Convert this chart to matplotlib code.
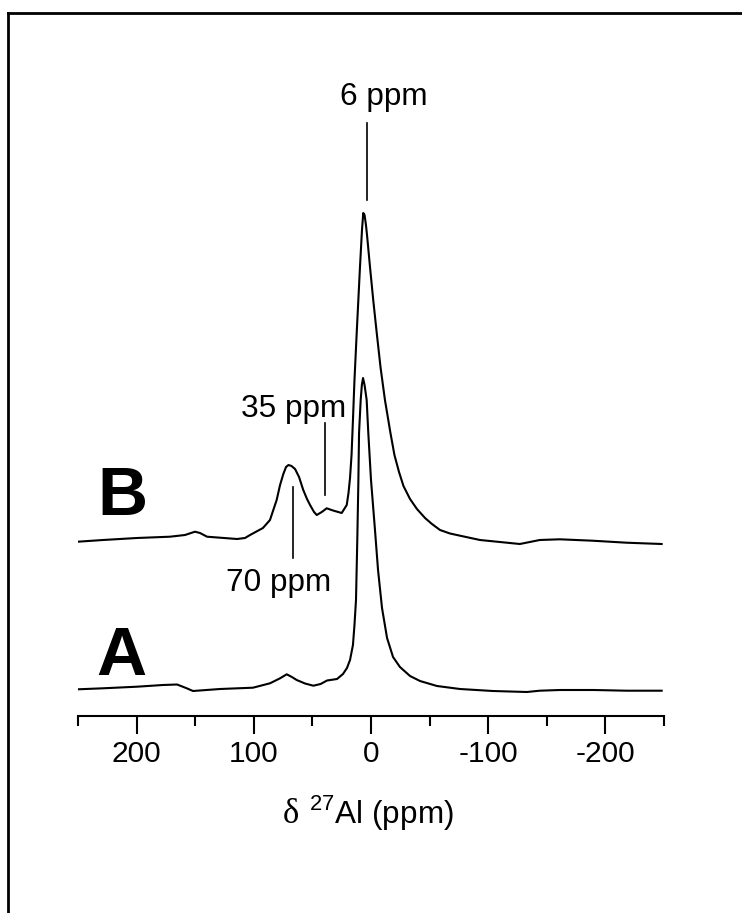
import matplotlib
matplotlib.use("Agg")
import matplotlib.pyplot as plt
from matplotlib.lines import Line2D
import numpy as np

# ---- data: chemical shift (ppm) and intensity (arbitrary units) ----
ppm_A = [250, 228.7, 199.7, 177.5, 165.5, 157.8, 151.9, 128.8, 100.7, 86.2, 77.6, 71.9, 67.5,
         63.4, 56.3, 49.2, 43, 37.5, 29, 23.9, 20.5, 17.9, 15.4, 14.1, 12.8, 11.7, 10.8, 10.2,
         8.8, 7.8, 6.8, 5.5, 3.7, 2.3, 0, -3.4, -6.0, -9.4, -13.7, -18.8, -24.7, -33.3, -41.8,
         -56.3, -75.9, -104, -133, -144, -161, -190, -218, -248]
int_A = [0.7, 1.7, 3.3, 5, 5.5, 2, -1, 1, 2.3, 6.7, 11.7, 15.7, 13,
         10, 6.5, 4.3, 6, 9.5, 11, 16, 22, 30, 45, 65, 90, 150, 207, 257,
         290, 305, 312, 305, 290, 257, 210, 160, 120, 82, 52, 33, 23, 14, 9,
         4, 1, -1, -2, -0.7, 0, 0, -0.7, -0.7]

ppm_B = [250, 228.7, 199.7, 171.5, 158.7, 150.2, 145.9, 139.9, 114.3, 107.5, 103.2, 92.2, 86.2,
         80.5, 77.6, 74.8, 72.5, 70.4, 67.8, 64.8, 61.4, 57.8, 54.6, 52, 48.6, 46.3, 42, 37.8,
         32.4, 25, 20.7, 19.2, 17.9, 16.6, 15.4, 14.1, 12.2, 9.4, 7.7, 6.6, 5.5, 4.3, 3.4, 0.85,
         -1.9, -4.9, -8.1, -11.9, -16.6, -20, -23.9, -27.7, -33.3, -39.2, -46.1, -52, -58.9,
         -67.4, -76, -93, -110, -127, -144, -161, -189, -218, -248]
int_B = [0.3, 2, 4, 5.3, 7, 10.3, 9, 5.3, 3, 4, 7, 14, 22,
         42, 57, 68, 75, 77, 76, 73, 65, 52, 43, 37, 30, 27, 30, 33.7,
         31.5, 29, 37, 49, 64, 87, 122, 162, 209, 275, 312, 329, 327, 317, 307, 275,
         242, 209, 175, 142, 109, 87, 70, 56, 43, 33, 24, 18, 12,
         8.5, 6.3, 2, 0, -2, 2, 2.7, 1.3, -0.7, -2]

tick_vals = [200, 100, 0, -100, -200]
tick_labels = ["200", "100", "0", "-100", "-200"]
minor_vals = [250, 150, 50, -50, -150, -250]
peak_labels = ["6 ppm", "35 ppm", "70 ppm"]
peak_ppm = [3.7, 39.2, 66.3]
spectrum_labels = ["A", "B"]

plt.rcParams['font.family'] = ['Liberation Sans', 'DejaVu Sans']
plt.rcParams['mathtext.fontset'] = 'custom'
plt.rcParams['mathtext.rm'] = 'Liberation Sans'

W, H = 742, 913
fig = plt.figure(figsize=(W / 100, H / 100), dpi=100)
ax_bottom_px = 716
ax_top_px = 200
ax = fig.add_axes([78 / W, 1 - ax_bottom_px / H, 586 / W, (ax_bottom_px - ax_top_px) / H])

off_A = 26
off_B = 174
ax.plot(ppm_A, np.array(int_A) + off_A, color='black', lw=1.5, solid_joinstyle='round')
ax.plot(ppm_B, np.array(int_B) + off_B, color='black', lw=1.5, solid_joinstyle='round')

ax.set_xlim(250, -250)
ax.set_ylim(0, ax_bottom_px - ax_top_px)
for s in ['top', 'right', 'left']:
    ax.spines[s].set_visible(False)
ax.spines['bottom'].set_linewidth(1.5)
ax.set_yticks([])
ax.set_xticks(tick_vals)
ax.set_xticklabels(tick_labels, fontsize=21.5)
ax.set_xticks(minor_vals, minor=True)
ax.tick_params(axis='x', which='major', direction='out', length=13, width=1.5, pad=4)
ax.tick_params(axis='x', which='minor', direction='out', length=7, width=1.5)

# spectrum labels
ax.text(212.7, 41, spectrum_labels[0], fontsize=50, fontweight='bold', ha='center', va='baseline')
ax.text(212, 201, spectrum_labels[1], fontsize=50, fontweight='bold', ha='center', va='baseline')

# peak annotations
fs_ann = 22.7
ax.text(-11.1, 611, peak_labels[0], fontsize=fs_ann, ha='center', va='baseline')
ax.plot([peak_ppm[0]] * 2, [593, 516], color='black', lw=1.2, clip_on=False)
ax.text(65.7, 299, peak_labels[1], fontsize=fs_ann, ha='center', va='baseline')
ax.plot([peak_ppm[1]] * 2, [293, 221], color='black', lw=1.2)
ax.text(79, 125, peak_labels[2], fontsize=fs_ann, ha='center', va='baseline')
ax.plot([peak_ppm[2]] * 2, [229, 158], color='black', lw=1.2)

# x label: delta in serif, rest in sans
fig.text(290.5 / W, 1 - 823 / H, "δ", fontsize=25, family='Liberation Serif',
         ha='center', va='baseline')
fig.text(309 / W, 1 - 823 / H, r"$^{27}$Al (ppm)", fontsize=fs_ann, ha='left', va='baseline')

# outer frame (top and left edges visible)
fig.add_artist(Line2D([8 / W, 1.0], [1 - 13.5 / H, 1 - 13.5 / H], color='black', lw=2,
                      transform=fig.transFigure))
fig.add_artist(Line2D([8 / W, 8 / W], [1 - 13.5 / H, 0], color='black', lw=2,
                      transform=fig.transFigure))

fig.savefig("out.png", dpi=100)
